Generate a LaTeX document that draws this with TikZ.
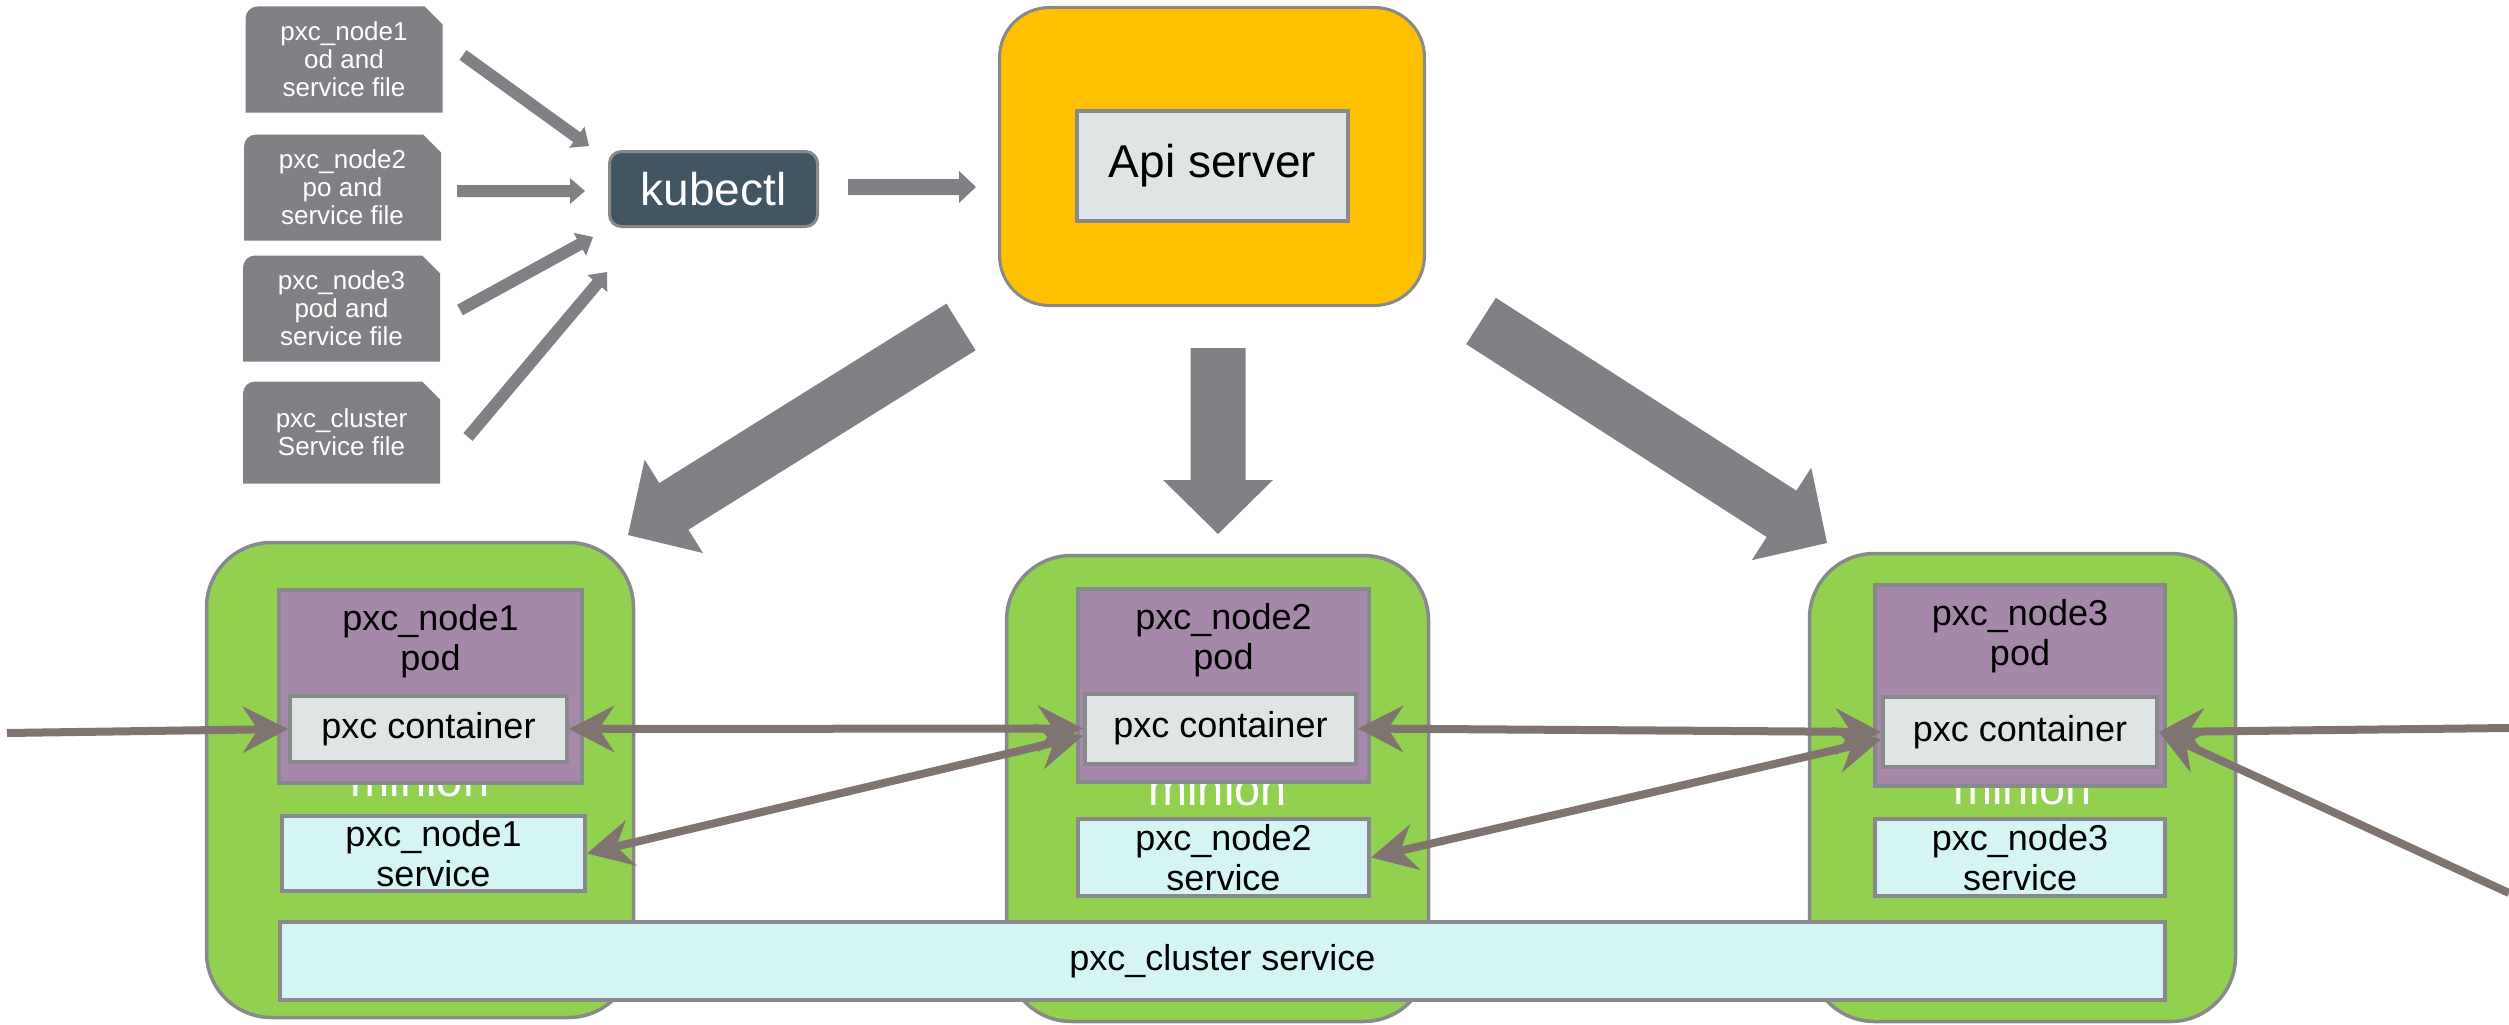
\documentclass[tikz,border=0pt]{standalone}
\usepackage{fontspec}
\setmainfont{Liberation Sans}
\usetikzlibrary{arrows.meta,calc}
\definecolor{filegray}{HTML}{808184}
\definecolor{arrgray}{HTML}{808184}
\definecolor{bordgray}{HTML}{88898B}
\definecolor{kubefill}{HTML}{425563}
\definecolor{apiyellow}{HTML}{FFC000}
\definecolor{lightgray}{HTML}{DFE5E4}
\definecolor{mgreen}{HTML}{92D050}
\definecolor{podpurple}{HTML}{A688AA}
\definecolor{svccyan}{HTML}{D4F5F3}
\definecolor{conncol}{HTML}{7F746F}
\newcommand\blockarr[5]{%
  \coordinate (#1#2h) at ($(#2)!#5!(#1)$);
  \fill[arrgray] ($(#1)!#3!90:(#2)$) -- ($(#1#2h)!#3!-90:(#1)$) -- ($(#1#2h)!#4!-90:(#1)$) -- (#2) -- ($(#1#2h)!#4!90:(#1)$) -- ($(#1#2h)!#3!90:(#1)$) -- ($(#1)!#3!-90:(#2)$) -- cycle;
}
\begin{document}
\begin{tikzpicture}[x=1pt,y=1pt,
  >={Stealth[length=45pt,width=46pt,inset=15pt]},
  filebox/.style={minimum width=197pt, minimum height=106pt, inner sep=0pt, align=center, text=white,
    font=\fontsize{26}{28}\selectfont,
    path picture={\fill[filegray] (path picture bounding box.south west) -- ($(path picture bounding box.north west)+(0,-12pt)$) arc[start angle=180,end angle=90,radius=12pt] -- ($(path picture bounding box.north east)+(-18pt,0)$) -- ($(path picture bounding box.north east)+(0,-18pt)$) -- (path picture bounding box.south east) -- cycle;}},
  kubebox/.style={draw=bordgray, line width=3pt, fill=kubefill, rounded corners=12pt, minimum width=208pt, minimum height=75pt, text=white, font=\fontsize{46}{50}\selectfont, inner sep=0pt},
  apibox/.style={draw=bordgray, line width=3pt, fill=apiyellow, rounded corners=50pt, minimum width=425pt, minimum height=298pt, inner sep=0pt},
  innerbox/.style={draw=bordgray, line width=4pt, fill=lightgray, inner sep=0pt, font=\fontsize{36}{40}\selectfont, align=center},
  minionbox/.style={draw=bordgray, line width=3.5pt, fill=mgreen, rounded corners=65pt, inner sep=0pt, text=white, font=\fontsize{47}{50}\selectfont},
  podbox/.style={draw=bordgray, line width=4pt, fill=podpurple, inner sep=0pt},
  podlabel/.style={inner sep=0pt, align=center, font=\fontsize{36}{40}\selectfont, anchor=north},
  svcbox/.style={draw=bordgray, line width=4pt, fill=svccyan, inner sep=0pt, align=center, font=\fontsize{36}{40}\selectfont},
  conn/.style={draw=conncol, line width=8pt}
]
\useasboundingbox (0,0) rectangle (2509,-1025);
\fill[white] (0,0) rectangle (2509,-1025);

% API server
\node[apibox] (api) at (1212,-156.5) {};
\node[innerbox, minimum width=271pt, minimum height=110pt, font=\fontsize{46}{50}\selectfont] (apis) at (1212.5,-166) {Api server};

% kubectl
\node[kubebox] (kube) at (713.5,-189) {kubectl};

% files
\node[filebox] (f1) at (344,-59.5) {pxc\_node1\\od and\\service file};
\node[filebox] (f2) at (342.5,-187.5) {pxc\_node2\\po and\\service file};
\node[filebox] (f3) at (341.5,-308.5) {pxc\_node3\\pod and\\service file};
\node[filebox, minimum height=102pt] (f4) at (341.5,-432.5) {pxc\_cluster\\Service file};

% small block arrows
\coordinate (a1s) at (463,-55);  \coordinate (a1e) at (589,-146);
\coordinate (a2s) at (457,-191); \coordinate (a2e) at (585,-191);
\coordinate (a3s) at (460,-310); \coordinate (a3e) at (593,-237);
\coordinate (a4s) at (468,-437); \coordinate (a4e) at (607,-272);
\blockarr{a1s}{a1e}{6pt}{13pt}{15pt}
\blockarr{a2s}{a2e}{6pt}{13pt}{15pt}
\blockarr{a3s}{a3e}{6pt}{13pt}{15pt}
\blockarr{a4s}{a4e}{6pt}{13pt}{15pt}
\coordinate (kas) at (848,-187); \coordinate (kae) at (976,-187);
\blockarr{kas}{kae}{8pt}{16pt}{17pt}

% big block arrows
\coordinate (bls) at (961,-327);  \coordinate (ble) at (628,-535);
\coordinate (bms) at (1218,-348); \coordinate (bme) at (1218,-534);
\coordinate (brs) at (1481,-321); \coordinate (bre) at (1827,-543);
\blockarr{bls}{ble}{27.5pt}{55pt}{54pt}
\blockarr{bms}{bme}{27.5pt}{55pt}{54pt}
\blockarr{brs}{bre}{27.5pt}{55pt}{54pt}

% minions
\node[minionbox, minimum width=427pt, minimum height=475pt] (m1) at (420,-780) {minion};
\node[minionbox, minimum width=422pt, minimum height=466pt] (m2) at (1217.5,-788.5) {minion};
\node[minionbox, minimum width=426pt, minimum height=468pt] (m3) at (2022.5,-787.5) {minion};

% pods
\node[podbox, minimum width=303pt, minimum height=193pt] (p1) at (430.5,-686.5) {};
\node[podbox, minimum width=291pt, minimum height=193pt] (p2) at (1223.5,-685.5) {};
\node[podbox, minimum width=290pt, minimum height=201pt] (p3) at (2020,-685.5) {};
\node[podlabel] (p1l) at ($(p1.north)+(0,-16pt)$) {pxc\_node1\\pod};
\node[podlabel] (p2l) at ($(p2.north)+(0,-16pt)$) {pxc\_node2\\pod};
\node[podlabel] (p3l) at ($(p3.north)+(0,-16pt)$) {pxc\_node3\\pod};

% containers
\node[innerbox, minimum width=277pt, minimum height=66pt] (c1) at (428.5,-729) {pxc container};
\node[innerbox, minimum width=271pt, minimum height=70pt] (c2) at (1220.5,-728.5) {pxc container};
\node[innerbox, minimum width=274pt, minimum height=70pt] (c3) at (2020,-732) {pxc container};

% services
\node[svcbox, minimum width=303pt, minimum height=75pt] (s1) at (433.5,-853.5) {pxc\_node1\\service};
\node[svcbox, minimum width=291pt, minimum height=77pt] (s2) at (1223.5,-857.5) {pxc\_node2\\service};
\node[svcbox, minimum width=290pt, minimum height=77pt] (s3) at (2020,-857.5) {pxc\_node3\\service};
\node[svcbox, minimum width=1885pt, minimum height=78pt] (cl) at (1222.5,-961) {pxc\_cluster service};

% connectors
\coordinate (inL) at (7,-733);
\coordinate (inR) at (2509,-728);
\coordinate (inRB) at (2509,-893);
\draw[conn,->] (inL) -- (c1.west);
\draw[conn,<->] (c1.east) -- (c2.west);
\draw[conn,<->] (s1.east) -- (c2.183);
\draw[conn,<->] (c2.east) -- (c3.west);
\draw[conn,<->] (s2.east) -- (c3.183);
\draw[conn,->] (inR) -- (c3.east);
\draw[conn,->] (inRB) -- (c3.east);
\end{tikzpicture}
\end{document}
